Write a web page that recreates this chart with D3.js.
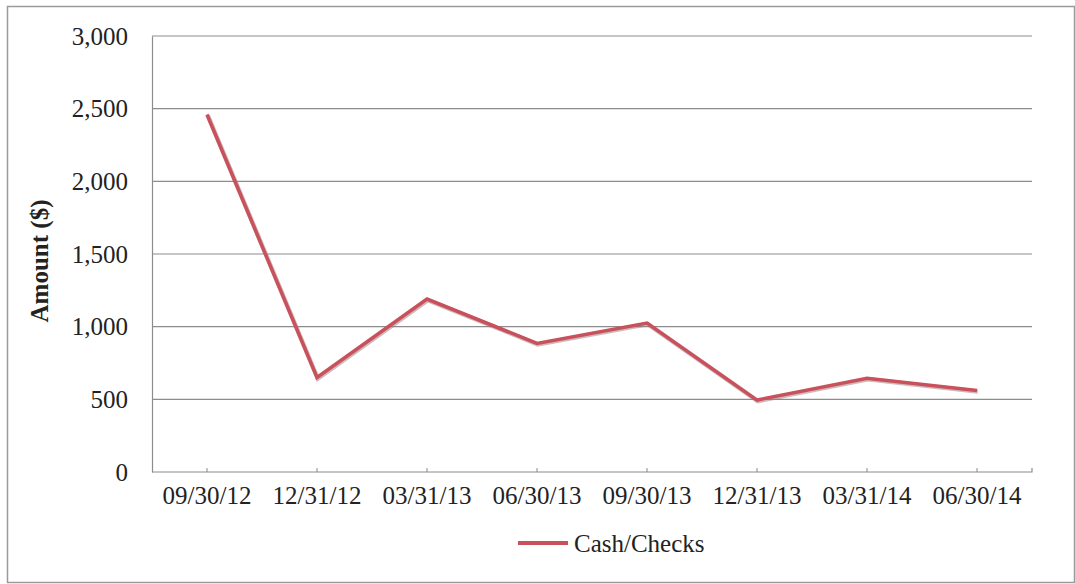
<!DOCTYPE html>
<html>
<head>
<meta charset="utf-8">
<script src="https://cdn.jsdelivr.net/npm/d3@7"></script>
<style>
  body { margin: 0; background: #fff; }
  svg { display: block; }
  text { font-family: "Liberation Serif", "Times New Roman", serif; fill: #222; }
</style>
</head>
<body>
<script>
var dates = ["09/30/12", "12/31/12", "03/31/13", "06/30/13", "09/30/13", "12/31/13", "03/31/14", "06/30/14"];
var cashChecks = [2460, 650, 1190, 885, 1025, 495, 645, 560];
var yTicks = [0, 500, 1000, 1500, 2000, 2500, 3000];

var width = 1075,
    height = 584,
    margin = { top: 36, right: 43, bottom: 112, left: 152 },
    lineColor = "#c9515c";

var svg = d3.select("body").append("svg")
    .attr("width", width)
    .attr("height", height);

// outer frame
svg.append("rect")
    .attr("x", 7.5).attr("y", 6.5)
    .attr("width", width - 8).attr("height", height - 8)
    .attr("fill", "none")
    .attr("stroke", "#9a9a9a")
    .attr("stroke-width", 1.5);

var x = d3.scaleBand()
    .domain(dates)
    .range([margin.left, width - margin.right]);

var y = d3.scaleLinear()
    .domain([0, 3000])
    .range([height - margin.bottom, margin.top]);

var g = svg.append("g");

// gridlines
g.selectAll("line.grid")
    .data(yTicks.filter(d => d > 0))
    .enter().append("line")
    .attr("class", "grid")
    .attr("x1", margin.left).attr("x2", width - margin.right)
    .attr("y1", d => y(d)).attr("y2", d => y(d))
    .attr("stroke", "#8c8c8c")
    .attr("stroke-width", 1.2);

// y axis
var yAxis = g.append("g")
    .attr("transform", "translate(" + margin.left + ",0)")
    .call(d3.axisLeft(y).tickValues(yTicks).tickFormat(d3.format(",")).tickSize(0).tickPadding(24));
yAxis.select(".domain").attr("stroke", "#8c8c8c").attr("stroke-width", 1.2);
yAxis.selectAll("text")
    .style("font-size", "25px")
    .style("font-family", "Liberation Serif, serif")
    .attr("fill", "#222");

// x axis
var xAxis = g.append("g")
    .attr("transform", "translate(0," + y(0) + ")")
    .call(d3.axisBottom(x).tickSize(-4).tickPadding(14));
xAxis.select(".domain").attr("stroke", "#8c8c8c").attr("stroke-width", 1.2).attr("d",
    "M" + margin.left + ",0H" + (width - margin.right) + "V-4");
xAxis.selectAll(".tick line").attr("stroke", "#8c8c8c");
xAxis.selectAll("text")
    .style("font-size", "25px")
    .style("font-family", "Liberation Serif, serif")
    .attr("fill", "#222");

// y title
svg.append("text")
    .attr("transform", "translate(48,261) rotate(-90)")
    .attr("text-anchor", "middle")
    .style("font-size", "25px")
    .style("font-weight", "bold")
    .text("Amount ($)");

// line
var line = d3.line()
    .x((d, i) => x(dates[i]) + x.bandwidth() / 2)
    .y(d => y(d));

svg.append("path")
    .datum(cashChecks)
    .attr("d", line)
    .attr("fill", "none")
    .attr("stroke", "#9a7a7c")
    .attr("stroke-width", 4.5)
    .attr("stroke-opacity", 0.5)
    .attr("transform", "translate(0.8,1)");

svg.append("path")
    .datum(cashChecks)
    .attr("d", line)
    .attr("fill", "none")
    .attr("stroke", lineColor)
    .attr("stroke-width", 3.5);

// legend
var legend = svg.append("g").attr("transform", "translate(518,543)");
legend.append("line")
    .attr("x1", 0).attr("x2", 50)
    .attr("stroke", lineColor)
    .attr("stroke-width", 4);
legend.append("text")
    .attr("x", 56).attr("y", 9)
    .style("font-size", "25px")
    .text("Cash/Checks");
</script>
</body>
</html>
